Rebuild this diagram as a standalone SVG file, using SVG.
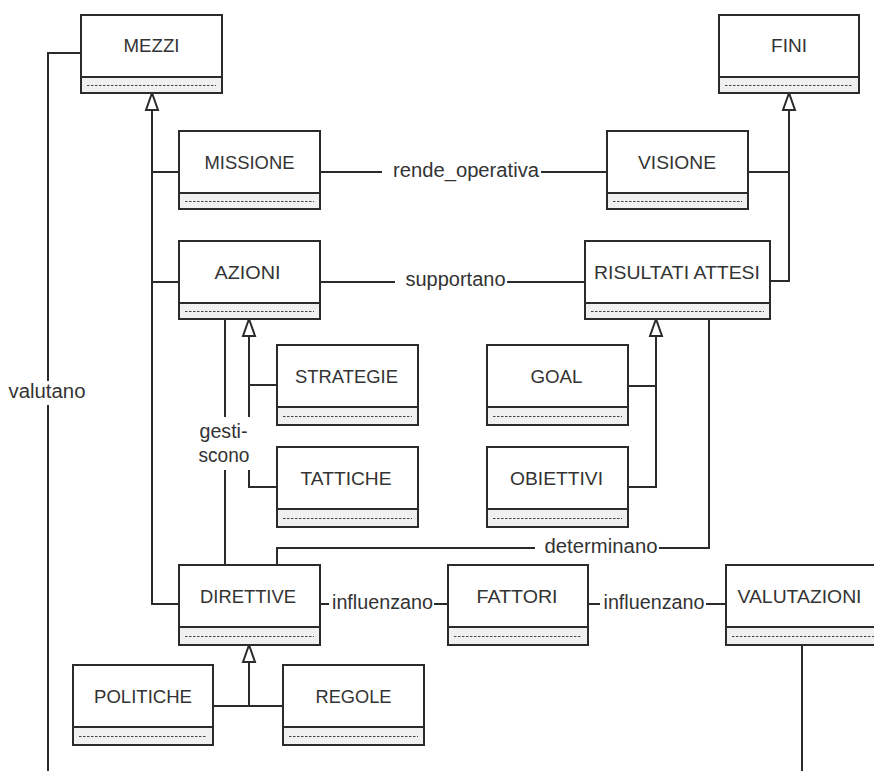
<svg xmlns="http://www.w3.org/2000/svg" xmlns:xlink="http://www.w3.org/1999/xlink" width="874" height="771" viewBox="0 0 874 771">
<style>
.hd{fill:#fff;stroke:#2b2b2b;stroke-width:2}
.cp{fill:#f0f0f0;stroke:#2b2b2b;stroke-width:2}
.ds{stroke:#444;stroke-width:1;stroke-dasharray:2.5 1.5;fill:none}
.nm{font-family:"Liberation Sans",Arial,sans-serif;font-size:18.5px;fill:#333}
.lb{font-family:"Liberation Sans",Arial,sans-serif;font-size:19.5px;fill:#333}
.ln{fill:none;stroke:#2b2b2b;stroke-width:2}
.tri{fill:#fff;stroke:#2b2b2b;stroke-width:2;stroke-linejoin:miter}
.bg{fill:#fff}
</style>
<defs>
<path id="tri" d="M0,0 L-6,17 L6,17 Z"/>
</defs>
<rect width="874" height="771" fill="#fff"/>
<g id="connectors">
<path class="ln" d="M152,110 V604 H179 M152,172 H179 M152,282 H179"/>
<path class="ln" d="M789,110 V281 H770 M789,172 H748"/>
<path class="ln" d="M249,336 V487 H277 M249,385 H277"/>
<path class="ln" d="M656,336 V487 H628 M656,386 H628"/>
<path class="ln" d="M249,662 V706 M213,706 H283"/>
<path class="ln" d="M320,172 H607"/>
<path class="ln" d="M320,282 H585"/>
<path class="ln" d="M225,319 V565"/>
<path class="ln" d="M709,319 V548 H277 V565"/>
<path class="ln" d="M320,604 H448"/>
<path class="ln" d="M588,604 H726"/>
<path class="ln" d="M81,53 H48 V771"/>
<path class="ln" d="M802,645 V771"/>
<use xlink:href="#tri" class="tri" x="152" y="93"/>
<use xlink:href="#tri" class="tri" x="789" y="93"/>
<use xlink:href="#tri" class="tri" x="249" y="319"/>
<use xlink:href="#tri" class="tri" x="656" y="319"/>
<use xlink:href="#tri" class="tri" x="249" y="645"/>
<rect class="bg" x="382" y="162" width="159" height="22"/>
<text class="lb" x="393" y="176.5" textLength="146" lengthAdjust="spacingAndGlyphs">rende_operativa</text>
<rect class="bg" x="395" y="272" width="112" height="22"/>
<text class="lb" x="405.5" y="286" textLength="100" lengthAdjust="spacingAndGlyphs">supportano</text>
<rect class="bg" x="197" y="417" width="55" height="53"/>
<text class="lb" x="199.5" y="438" textLength="48" lengthAdjust="spacingAndGlyphs">gesti-</text>
<text class="lb" x="198.5" y="461.5" textLength="51" lengthAdjust="spacingAndGlyphs">scono</text>
<rect class="bg" x="535" y="538" width="124" height="22"/>
<text class="lb" x="544.5" y="552.5" textLength="113" lengthAdjust="spacingAndGlyphs">determinano</text>
<rect class="bg" x="329" y="594" width="105" height="22"/>
<text class="lb" x="332" y="608.5" textLength="101" lengthAdjust="spacingAndGlyphs">influenzano</text>
<rect class="bg" x="600" y="594" width="106" height="22"/>
<text class="lb" x="603.5" y="608.5" textLength="101" lengthAdjust="spacingAndGlyphs">influenzano</text>
<rect class="bg" x="5" y="381" width="85" height="24"/>
<text class="lb" x="8.5" y="398" textLength="77" lengthAdjust="spacingAndGlyphs">valutano</text>
</g>
<g id="mezzi">
<rect class="hd" x="81" y="15" width="141" height="62"/><rect class="cp" x="81" y="77" width="141" height="16"/>
<line class="ds" x1="87" y1="85.5" x2="216" y2="85.5"/>
<text class="nm" x="123.5" y="52" textLength="56" lengthAdjust="spacingAndGlyphs">MEZZI</text>
</g>
<g id="fini">
<rect class="hd" x="719" y="15" width="140" height="62"/><rect class="cp" x="719" y="77" width="140" height="16"/>
<line class="ds" x1="725" y1="85.5" x2="853" y2="85.5"/>
<text class="nm" x="771" y="52" textLength="36" lengthAdjust="spacingAndGlyphs">FINI</text>
</g>
<g id="missione">
<rect class="hd" x="179" y="131" width="141" height="62"/><rect class="cp" x="179" y="193" width="141" height="16"/>
<line class="ds" x1="185" y1="201.5" x2="314" y2="201.5"/>
<text class="nm" x="204.5" y="169" textLength="90" lengthAdjust="spacingAndGlyphs">MISSIONE</text>
</g>
<g id="visione">
<rect class="hd" x="607" y="131" width="141" height="62"/><rect class="cp" x="607" y="193" width="141" height="16"/>
<line class="ds" x1="613" y1="201.5" x2="742" y2="201.5"/>
<text class="nm" x="638" y="169" textLength="78" lengthAdjust="spacingAndGlyphs">VISIONE</text>
</g>
<g id="azioni">
<rect class="hd" x="179" y="241" width="141" height="62"/><rect class="cp" x="179" y="303" width="141" height="16"/>
<line class="ds" x1="185" y1="311.5" x2="314" y2="311.5"/>
<text class="nm" x="214.5" y="278.5" textLength="66" lengthAdjust="spacingAndGlyphs">AZIONI</text>
</g>
<g id="risultati-attesi">
<rect class="hd" x="585" y="241" width="185" height="62"/><rect class="cp" x="585" y="303" width="185" height="16"/>
<line class="ds" x1="591" y1="311.5" x2="764" y2="311.5"/>
<text class="nm" x="594" y="278.5" textLength="166" lengthAdjust="spacingAndGlyphs">RISULTATI ATTESI</text>
</g>
<g id="strategie">
<rect class="hd" x="277" y="345" width="141" height="62"/><rect class="cp" x="277" y="407" width="141" height="18"/>
<line class="ds" x1="283" y1="416.5" x2="412" y2="416.5"/>
<text class="nm" x="295" y="382.5" textLength="103" lengthAdjust="spacingAndGlyphs">STRATEGIE</text>
</g>
<g id="tattiche">
<rect class="hd" x="277" y="447" width="141" height="62"/><rect class="cp" x="277" y="509" width="141" height="18"/>
<line class="ds" x1="283" y1="518.5" x2="412" y2="518.5"/>
<text class="nm" x="300.5" y="484.5" textLength="91" lengthAdjust="spacingAndGlyphs">TATTICHE</text>
</g>
<g id="goal">
<rect class="hd" x="487" y="345" width="141" height="62"/><rect class="cp" x="487" y="407" width="141" height="18"/>
<line class="ds" x1="493" y1="416.5" x2="622" y2="416.5"/>
<text class="nm" x="530.5" y="382.5" textLength="52" lengthAdjust="spacingAndGlyphs">GOAL</text>
</g>
<g id="obiettivi">
<rect class="hd" x="487" y="447" width="141" height="62"/><rect class="cp" x="487" y="509" width="141" height="18"/>
<line class="ds" x1="493" y1="518.5" x2="622" y2="518.5"/>
<text class="nm" x="510" y="484.5" textLength="93" lengthAdjust="spacingAndGlyphs">OBIETTIVI</text>
</g>
<g id="direttive">
<rect class="hd" x="179" y="565" width="141" height="62"/><rect class="cp" x="179" y="627" width="141" height="18"/>
<line class="ds" x1="185" y1="636.5" x2="314" y2="636.5"/>
<text class="nm" x="200" y="603" textLength="96" lengthAdjust="spacingAndGlyphs">DIRETTIVE</text>
</g>
<g id="fattori">
<rect class="hd" x="448" y="565" width="140" height="62"/><rect class="cp" x="448" y="627" width="140" height="18"/>
<line class="ds" x1="454" y1="636.5" x2="582" y2="636.5"/>
<text class="nm" x="476.5" y="603" textLength="81" lengthAdjust="spacingAndGlyphs">FATTORI</text>
</g>
<g id="valutazioni">
<rect class="hd" x="726" y="565" width="160" height="62"/><rect class="cp" x="726" y="627" width="160" height="18"/>
<line class="ds" x1="732" y1="636.5" x2="880" y2="636.5"/>
<text class="nm" x="737.5" y="603" textLength="124" lengthAdjust="spacingAndGlyphs">VALUTAZIONI</text>
</g>
<g id="politiche">
<rect class="hd" x="73" y="665" width="140" height="62"/><rect class="cp" x="73" y="727" width="140" height="18"/>
<line class="ds" x1="79" y1="736.5" x2="207" y2="736.5"/>
<text class="nm" x="94" y="703" textLength="98" lengthAdjust="spacingAndGlyphs">POLITICHE</text>
</g>
<g id="regole">
<rect class="hd" x="283" y="665" width="141" height="62"/><rect class="cp" x="283" y="727" width="141" height="18"/>
<line class="ds" x1="289" y1="736.5" x2="418" y2="736.5"/>
<text class="nm" x="315.5" y="703" textLength="76" lengthAdjust="spacingAndGlyphs">REGOLE</text>
</g>
</svg>
